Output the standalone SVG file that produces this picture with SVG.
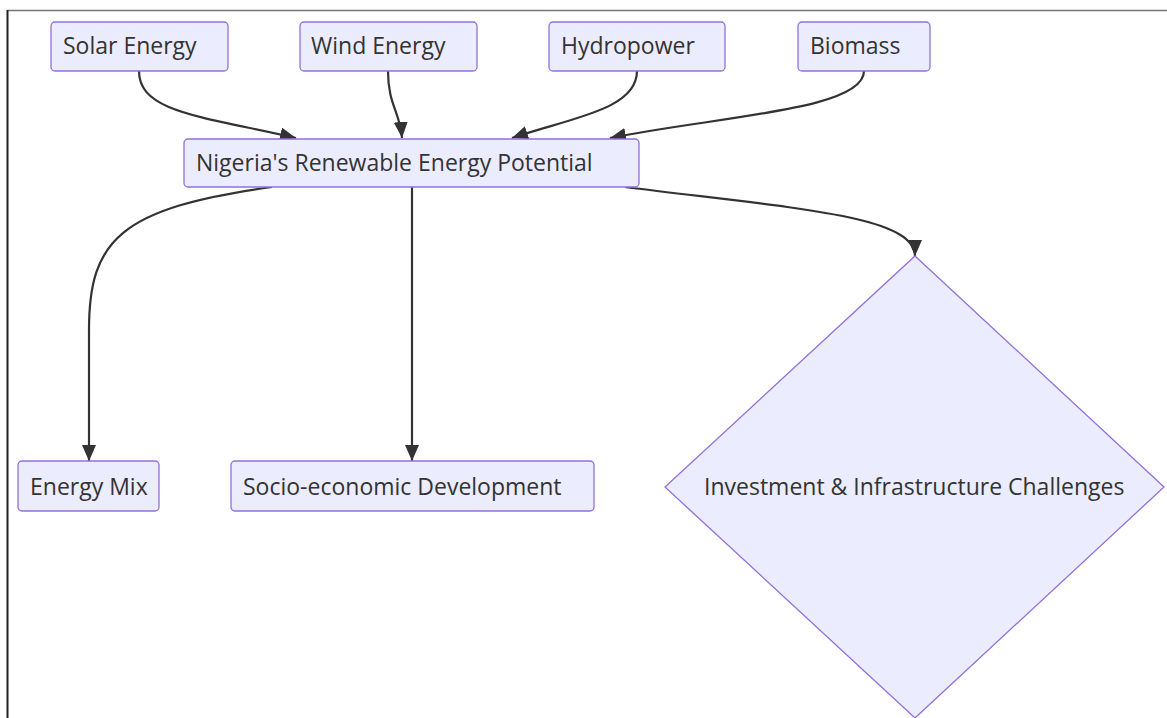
<svg xmlns="http://www.w3.org/2000/svg" width="1167" height="718" viewBox="0 0 1167 718">
<style>
.node rect, .node polygon { fill: #ECECFF; stroke: #9370DB; stroke-width: 1.3; }
.node text { font-family: "Open Sans", "Noto Sans", "DejaVu Sans", sans-serif; font-size: 23px; fill: #333; }
.edge { fill: none; stroke: #333; stroke-width: 2.2; }
</style>
<defs>
<marker id="arrow" markerUnits="userSpaceOnUse" markerWidth="18" markerHeight="16" refX="16" refY="7" orient="auto">
<path d="M0,0 L16,7 L0,14 z" fill="#333"/>
</marker>
</defs>
<rect x="0" y="0" width="1167" height="718" fill="#fff"/>
<line x1="7" y1="10.5" x2="1167" y2="10.5" stroke="#777" stroke-width="1.5"/>
<line x1="7.5" y1="10" x2="7.5" y2="718" stroke="#222" stroke-width="2"/>
<g id="connectors">
<path class="edge" d="M139,71 C139,112 200,116 296,138" marker-end="url(#arrow)"/>
<path class="edge" d="M388,71 C388,105 400,112 402,138" marker-end="url(#arrow)"/>
<path class="edge" d="M637,71 C637,110 570,118 512,138" marker-end="url(#arrow)"/>
<path class="edge" d="M864,71 C864,110 720,116 610,138" marker-end="url(#arrow)"/>
<path class="edge" d="M272,187 C120,208 89,240 89,330 L89,461" marker-end="url(#arrow)"/>
<path class="edge" d="M412,187 L412,461" marker-end="url(#arrow)"/>
<path class="edge" d="M625,187 C790,208 915,215 915,256" marker-end="url(#arrow)"/>
</g>
<g id="solar" class="node"><rect x="51" y="22" width="177" height="49" rx="4"/><text x="63" y="54">Solar Energy</text></g>
<g id="wind" class="node"><rect x="300" y="22" width="177" height="49" rx="4"/><text x="311" y="54">Wind Energy</text></g>
<g id="hydro" class="node"><rect x="549" y="22" width="176" height="49" rx="4"/><text x="561" y="54">Hydropower</text></g>
<g id="biomass" class="node"><rect x="798" y="22" width="132" height="49" rx="4"/><text x="810" y="54">Biomass</text></g>
<g id="nigeria" class="node"><rect x="184" y="139" width="455" height="48" rx="4"/><text x="196" y="171">Nigeria's Renewable Energy Potential</text></g>
<g id="mix" class="node"><rect x="18" y="461" width="141" height="50" rx="4"/><text x="30" y="495">Energy Mix</text></g>
<g id="socio" class="node"><rect x="231" y="461" width="363" height="50" rx="4"/><text x="243" y="495">Socio-economic Development</text></g>
<g id="challenges" class="node"><polygon points="915,256 1164,487 915,718 665,487"/><text x="704" y="495">Investment &amp; Infrastructure Challenges</text></g>
</svg>
